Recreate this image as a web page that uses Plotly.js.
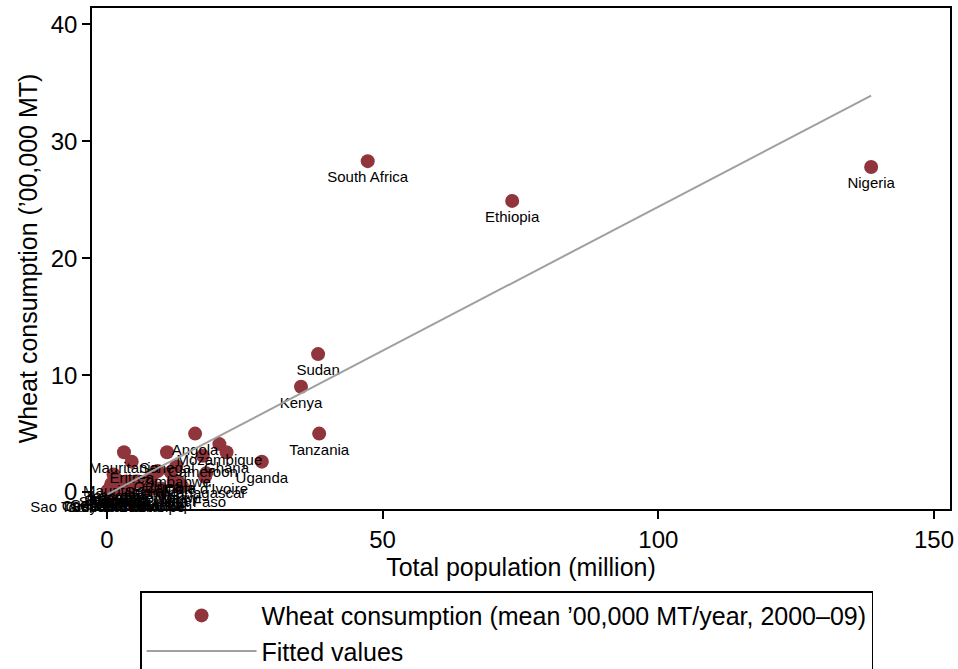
<!DOCTYPE html>
<html>
<head>
<meta charset="utf-8">
<script src="https://cdn.plot.ly/plotly-3.0.1.min.js"></script>
<style>
  body { margin: 0; background: #fff; }
  #chart { width: 958px; height: 669px; }
</style>
</head>
<body>
<div id="chart"></div>
<script>
// countries, mean population 2000-09 (million) and wheat use ('00,000 MT/yr)
const countries = [
  "Nigeria", "Ethiopia", "South Africa", "Sudan", "Kenya", "Tanzania", "Uganda",
  "Angola", "Mozambique", "Ghana", "Cameroon", "Zimbabwe", "Senegal", "Mauritania",
  "Eritrea", "Cote d'Ivoire", "Zambia", "Madagascar", "Burkina Faso", "Mali",
  "Malawi", "Niger", "Guinea", "Chad", "Somalia", "Rwanda", "Burundi", "Benin",
  "Togo", "Sierra Leone", "Liberia", "Congo", "Central African Rep.", "Namibia",
  "Botswana", "Lesotho", "Gabon", "Gambia", "Guinea-Bissau", "Swaziland",
  "Mauritius", "Djibouti", "Comoros", "Cape Verde", "Seychelles", "Sao Tome and Principe"
];
const population = [
  138.6, 73.5, 47.3, 38.3, 35.2, 38.5, 28.1,
  16.0, 20.4, 21.7, 17.4, 12.6, 10.9, 3.1,
  4.5, 18.0, 11.6, 17.8, 13.6, 12.1,
  12.9, 13.1, 9.2, 9.8, 8.2, 9.1, 7.6, 7.9,
  5.6, 5.2, 3.3, 3.5, 4.0, 2.0,
  1.8, 1.9, 1.4, 1.5, 1.4, 1.1,
  1.2, 0.8, 0.6, 0.5, 0.1, 0.15
];
const wheat = [
  27.8, 24.9, 28.3, 11.8, 9.0, 5.0, 2.6,
  5.0, 4.1, 3.4, 3.1, 2.2, 3.4, 3.4,
  2.6, 1.6, 1.7, 1.3, 0.5, 0.9,
  0.9, 0.6, 1.8, 0.3, 1.4, 0.3, 0.2, 1.2,
  0.9, 0.9, 0.3, 0.9, 0.2, 0.6,
  0.6, 1.0, 0.6, 0.5, 0.1, 0.5,
  1.5, 0.7, 0.2, 0.3, 0.1, 0.05
];
// fitted line end points
const fitX = [0.1, 138.6];
const fitY = [-0.2, 33.9];

const font = "Liberation Sans, Arial, Helvetica, sans-serif";

var data = [
  {
    type: "scatter",
    mode: "markers+text",
    x: population,
    y: wheat,
    text: countries,
    textposition: "bottom center",
    textfont: { family: font, size: 15, color: "#000" },
    marker: { color: "rgb(144,53,59)", size: 14 },
    name: "Wheat consumption (mean ’00,000 MT/year, 2000–09)",
    legendgroup: "a",
    cliponaxis: false,
    hoverinfo: "x+y+text"
  },
  {
    type: "scatter",
    mode: "lines",
    x: fitX,
    y: fitY,
    line: { color: "rgb(160,160,160)", width: 2 },
    name: "Fitted values",
    legendgroup: "b"
  }
];

var layout = {
  width: 958,
  height: 669,
  margin: { l: 92, r: 8, t: 8, b: 160, autoexpand: false },
  font: { family: font, color: "#000", size: 25 },
  paper_bgcolor: "#fff",
  plot_bgcolor: "#fff",
  xaxis: {
    range: [-2.7, 152.9],
    tickvals: [0, 50, 100, 150],
    ticks: "outside",
    ticklen: 8,
    tickwidth: 1.5,
    tickcolor: "#000",
    showgrid: false,
    zeroline: false,
    showline: true,
    mirror: true,
    linecolor: "#000",
    linewidth: 1.5,
    tickfont: { size: 24 },
    title: { text: "Total population (million)", font: { size: 25 }, standoff: 1 }
  },
  yaxis: {
    range: [-1.45, 41.4],
    tickvals: [0, 10, 20, 30, 40],
    ticks: "outside",
    ticklen: 8,
    tickwidth: 1.5,
    tickcolor: "#000",
    showgrid: false,
    zeroline: false,
    showline: true,
    mirror: true,
    linecolor: "#000",
    linewidth: 1.5,
    tickfont: { size: 24 },
    title: { text: "Wheat consumption (’00,000 MT)", font: { size: 25 }, standoff: 6 }
  },
  showlegend: true,
  legend: {
    x: 0.056,
    xanchor: "left",
    y: -0.164,
    yanchor: "top",
    bordercolor: "#000",
    borderwidth: 1.5,
    bgcolor: "#fff",
    itemwidth: 110,
    traceorder: "grouped",
    tracegroupgap: 0,
    font: { family: font, size: 25 }
  }
};

Plotly.newPlot("chart", data, layout, { displayModeBar: false });
</script>
</body>
</html>
